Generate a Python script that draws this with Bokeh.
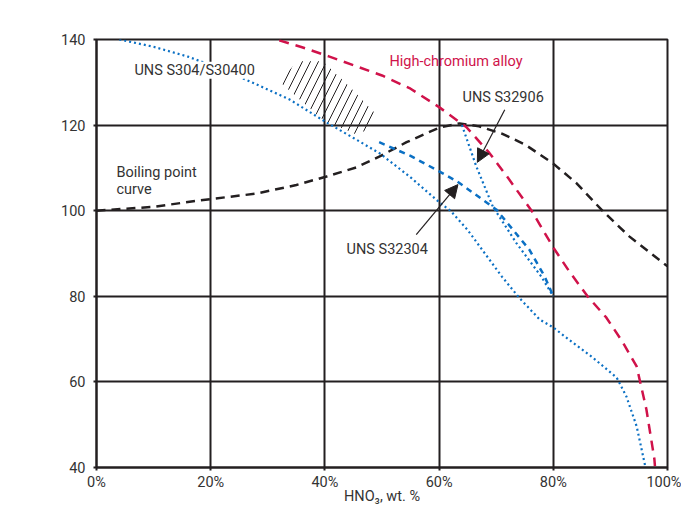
from bokeh.plotting import figure
from bokeh.models import Range1d, FixedTicker, Label, Arrow, NormalHead
from bokeh.embed import file_html
from bokeh.resources import INLINE

FONT = "Roboto"
FS = "14.5px"
DARK = "#231f20"
TEXT = "#333333"
CRIMSON = "#d0124a"
BLUE = "#0b70c4"

# ---- data ----
x_ticks = [0, 20, 40, 60, 80, 100]
x_tick_labels = ["0%", "20%", "40%", "60%", "80%", "100%"]
y_ticks = [40, 60, 80, 100, 120, 140]

boil_x = [0, 10, 18, 28, 35, 40.3, 45.5, 49.6, 54.3, 60, 63.6, 67, 71, 75, 80, 84, 88.6, 93.3, 100]
boil_y = [100, 100.9, 102.4, 104, 106, 108, 110.1, 112.7, 116, 119.4, 120.4, 119.7, 118, 115.5, 111, 106.5, 100, 94, 87]

hicr_x = [32, 36, 40.8, 45, 50, 55, 60, 64.8, 68.8, 72, 76.2, 80, 82.8, 86, 89.3, 92.1, 94.6, 96.3, 97.7, 97.8]
hicr_y = [139.8, 138.2, 136, 134, 131.6, 128.5, 124.2, 119.5, 113.5, 107.8, 100, 91.4, 85.8, 80, 75, 69.4, 63.6, 53.6, 42, 40.3]

s304_x = [4, 10, 16, 22, 27.7, 33.8, 40.3, 45, 49.6, 55, 60, 62, 65, 71, 74, 77.6, 80, 83.4, 86.9, 91.1, 92.8, 94.6, 96.1]
s304_y = [140, 138.3, 136, 133, 129.7, 126, 120.6, 117, 113.4, 107.8, 102, 100, 95.5, 84.6, 79.7, 74.6, 72.7, 69.2, 65.7, 61, 56.6, 49.6, 40.3]

s32906_x = [64, 66.5, 69.4, 73.5, 77.9, 80]
s32906_y = [120, 110.4, 101, 92.5, 84.6, 80]

s32304_x = [49.5, 55, 60, 63.2, 70, 75.8, 78.5, 80]
s32304_y = [116, 112.8, 109.2, 106.8, 100.3, 90.9, 84.6, 80]

hatch_x = [32.0, 35.2, 39.6, 44.3, 49.0, 48.3, 45.5, 39.6, 35.6]
hatch_y = [130.2, 134.9, 134.9, 129.0, 122.5, 119.4, 117.8, 121.3, 126.0]

p = figure(width=681, height=507, x_range=Range1d(0, 100), y_range=Range1d(40, 140),
           output_backend="svg", toolbar_location=None,
           min_border_left=96, min_border_right=14, min_border_top=39, min_border_bottom=30)

p.background_fill_color = "white"
p.border_fill_color = "white"
p.outline_line_color = DARK
p.outline_line_width = 2

for ax in (p.xaxis, p.yaxis):
    ax.axis_line_color = DARK
    ax.axis_line_width = 2
    ax.major_tick_line_color = DARK
    ax.major_tick_line_width = 2
    ax.major_tick_out = 3
    ax.major_tick_in = 0
    ax.minor_tick_line_color = None
    ax.major_label_text_font = FONT
    ax.major_label_text_font_size = FS
    ax.major_label_text_color = TEXT

p.xaxis.ticker = FixedTicker(ticks=x_ticks)
p.xaxis.major_label_overrides = {t: l for t, l in zip(x_ticks, x_tick_labels)}
p.xaxis.major_label_standoff = 3
p.xaxis.axis_label = "HNO₃, wt. %"
p.xaxis.axis_label_text_font = FONT
p.xaxis.axis_label_text_font_size = FS
p.xaxis.axis_label_text_font_style = "normal"
p.xaxis.axis_label_text_color = TEXT
p.xaxis.axis_label_standoff = -6
p.yaxis.ticker = FixedTicker(ticks=y_ticks)
p.yaxis.major_label_standoff = 8

p.xgrid.ticker = FixedTicker(ticks=x_ticks)
p.ygrid.ticker = FixedTicker(ticks=y_ticks)
for g in (p.xgrid, p.ygrid):
    g.grid_line_color = DARK
    g.grid_line_width = 2

# hatched region
p.patch(hatch_x, hatch_y, fill_alpha=0, line_alpha=0, hatch_pattern="/",
        hatch_color=DARK, hatch_weight=1, hatch_scale=16)

p.line(boil_x, boil_y, line_color=DARK, line_width=2.5, line_dash="9 6")
p.line(hicr_x, hicr_y, line_color=CRIMSON, line_width=2.5, line_dash="10 7")
p.line(s304_x, s304_y, line_color=BLUE, line_width=2.2, line_dash="2 3")
p.line(s32906_x, s32906_y, line_color=BLUE, line_width=2.2, line_dash="2 3")
p.line(s32304_x, s32304_y, line_color=BLUE, line_width=2.5, line_dash="6 5")

# arrows
p.add_layout(Arrow(end=NormalHead(size=13, fill_color=DARK, line_color=DARK),
                   x_start=71.5, y_start=123.6, x_end=66.7, y_end=111.3,
                   line_color=DARK, line_width=1.2))
p.add_layout(Arrow(end=NormalHead(size=13, fill_color=DARK, line_color=DARK),
                   x_start=56, y_start=94.4, x_end=63.3, y_end=106.1,
                   line_color=DARK, line_width=1.2))

def lab(x, y, t, color=TEXT, align="left", bg=None):
    l = Label(x=x, y=y, text=t, text_font=FONT, text_font_size=FS, text_color=color,
              text_align=align, text_baseline="middle")
    if bg:
        l.background_fill_color = bg
    p.add_layout(l)

lab(6.65, 132.8, "UNS S304/S30400", bg="white")
lab(51.3, 134.9, "High-chromium alloy", color=CRIMSON)
lab(64.1, 126.4, "UNS S32906")
lab(3.5, 108.9, "Boiling point")
lab(3.5, 105.0, "curve")
lab(43.8, 90.9, "UNS S32304")
lab(-15.2, 145.1, "Temperature, ºC")

open("out.html", "w").write(file_html(p, INLINE))
